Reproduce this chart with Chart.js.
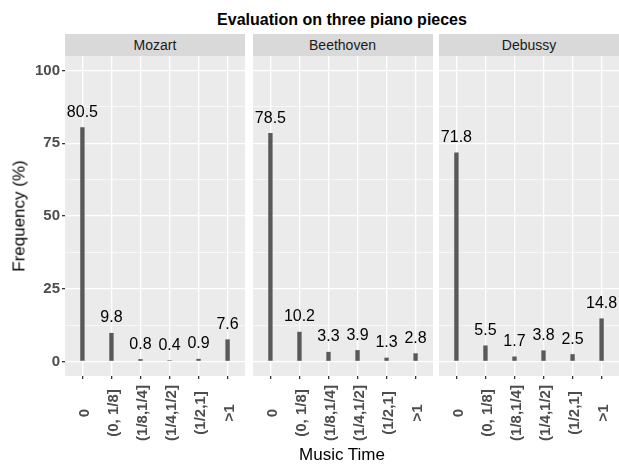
<!DOCTYPE html>
<html>
<head>
<meta charset="utf-8">
<script src="https://cdn.jsdelivr.net/npm/chart.js@4.4.0/dist/chart.umd.min.js"></script>
<style>
body{margin:0;width:619px;height:464px;overflow:hidden;background:#fff;position:relative;font-family:"Liberation Sans",Arial,sans-serif}
canvas{position:absolute;top:36px}
.strip{position:absolute;top:34px;width:180px;height:22px;line-height:22px;background:#D9D9D9;color:#1A1A1A;font-size:14px;text-align:center}
#title{position:absolute;left:0;width:684px;top:11.5px;font-size:16px;line-height:16px;font-weight:bold;text-align:center;color:#000}
#xtitle{position:absolute;left:0;width:684px;top:445.5px;font-size:17px;line-height:17px;text-align:center;color:#000}
#ytitle{position:absolute;left:18.5px;top:216px;font-size:17px;line-height:17px;white-space:nowrap;color:#000;transform:translate(-50%,-50%) rotate(-90deg)}
</style>
</head>
<body>
<div id="title">Evaluation on three piano pieces</div>
<div class="strip" style="left:65px">Mozart</div>
<div class="strip" style="left:252.5px">Beethoven</div>
<div class="strip" style="left:439px">Debussy</div>
<canvas id="c0" width="255" height="420" style="left:0px"></canvas>
<canvas id="c1" width="200" height="420" style="left:242.5px"></canvas>
<canvas id="c2" width="200" height="420" style="left:429px"></canvas>
<div id="ytitle">Frequency (%)</div>
<div id="xtitle">Music Time</div>
<script>
var categories = ['0', '(0, 1/8]', '(1/8,1/4]', '(1/4,1/2]', '(1/2,1]', '>1'];
var mozart = [80.5, 9.8, 0.8, 0.4, 0.9, 7.6];
var beethoven = [78.5, 10.2, 3.3, 3.9, 1.3, 2.8];
var debussy = [71.8, 5.5, 1.7, 3.8, 2.5, 14.8];
var yTicks = [0, 25, 50, 75, 100];
var yMinor = [12.5, 37.5, 62.5, 87.5];

var FONT = '"Liberation Sans", Arial, sans-serif';

// grey panel behind the grid
var panelBg = {
    id: 'panelBg',
    beforeDraw: function(chart) {
        var a = chart.chartArea;
        chart.ctx.save();
        chart.ctx.fillStyle = '#EBEBEB';
        chart.ctx.fillRect(a.left, a.top, a.right - a.left, a.bottom - a.top);
        chart.ctx.restore();
    }
};

// numbers above the bars
var valueLabels = {
    id: 'valueLabels',
    afterDatasetsDraw: function(chart) {
        var ctx = chart.ctx;
        var meta = chart.getDatasetMeta(0);
        var vals = chart.data.datasets[0].data;
        ctx.save();
        ctx.font = '16px ' + FONT;
        ctx.fillStyle = '#000';
        ctx.textAlign = 'center';
        ctx.textBaseline = 'alphabetic';
        meta.data.forEach(function(bar, i) {
            ctx.fillText(vals[i].y.toFixed(1), bar.x, bar.y - 10.5);
        });
        ctx.restore();
    }
};

// rotated category labels, centred like ggplot's vjust 0.5
var xLabels = {
    id: 'xLabels',
    afterDraw: function(chart) {
        var ctx = chart.ctx;
        var sx = chart.scales.x;
        ctx.save();
        ctx.font = 'bold 15px ' + FONT;
        ctx.fillStyle = '#4D4D4D';
        ctx.textAlign = 'center';
        ctx.textBaseline = 'middle';
        categories.forEach(function(c, i) {
            ctx.save();
            ctx.translate(sx.getPixelForValue(i) + 2, 377);
            ctx.rotate(-Math.PI / 2);
            ctx.fillText(c, 0, 0);
            ctx.restore();
        });
        ctx.restore();
    }
};

function makePanel(id, values, first)
{
    var pts = values.map(function(v, i) { return {x: i, y: v}; });
    return new Chart(document.getElementById(id), {
        type: 'bar',
        data: {
            datasets: [{
                data: pts,
                backgroundColor: '#595959',
                barPercentage: 0.15,
                categoryPercentage: 1
            }]
        },
        options: {
            responsive: false,
            animation: false,
            layout: {padding: {top: 20, left: first ? 0 : 10, right: 10, bottom: 0}},
            plugins: {legend: {display: false}, tooltip: {enabled: false}},
            scales: {
                x: {
                    type: 'linear',
                    offset: false,
                    min: -0.6,
                    max: categories.length - 0.4,
                    afterBuildTicks: function(s) {
                        s.ticks = categories.map(function(c, i) { return {value: i}; });
                    },
                    afterFit: function(s) { s.height = 80; },
                    ticks: {display: false},
                    border: {display: false},
                    grid: {offset: false, color: '#FFFFFF', lineWidth: 1.3, drawTicks: true, tickLength: 3, tickColor: '#333333'}
                },
                y: {
                    min: -5,
                    max: 105,
                    afterBuildTicks: function(s) {
                        s.ticks = yTicks.concat(yMinor).sort(function(a, b) { return a - b; })
                            .map(function(v) { return {value: v}; });
                    },
                    afterFit: function(s) { s.width = first ? 65 : 0; },
                    border: {display: false},
                    ticks: {
                        display: first,
                        padding: 2,
                        color: '#4D4D4D',
                        font: {family: FONT, size: 15, weight: 'bold'},
                        callback: function(v) { return yTicks.indexOf(v) >= 0 ? v : ''; }
                    },
                    grid: {
                        color: '#FFFFFF',
                        lineWidth: function(c) { return c.tick && yTicks.indexOf(c.tick.value) >= 0 ? 1.3 : 0.6; },
                        drawTicks: first,
                        tickLength: 3,
                        tickColor: function(c) { return c.tick && yTicks.indexOf(c.tick.value) >= 0 ? '#333333' : 'rgba(0,0,0,0)'; }
                    }
                }
            }
        },
        plugins: [panelBg, valueLabels, xLabels]
    });
}

makePanel('c0', mozart, true);
makePanel('c1', beethoven, false);
makePanel('c2', debussy, false);
</script>
</body>
</html>
